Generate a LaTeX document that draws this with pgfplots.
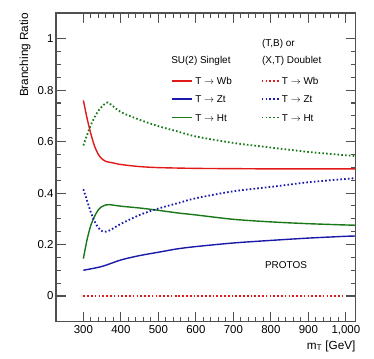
\documentclass[border=0pt]{standalone}
\usepackage{fontspec}
\setmainfont{Liberation Sans}
\usepackage{pgfplots}
\pgfplotsset{compat=1.18}

\definecolor{cred}{RGB}{225,25,25}
\definecolor{cblue}{RGB}{25,25,170}
\definecolor{cgreen}{RGB}{25,120,25}
\definecolor{cframe}{RGB}{80,80,80}

\begin{document}
\begin{tikzpicture}
\begin{axis}[
  scale only axis, width=299.6bp, height=308.7bp,
  xmin=227, xmax=1026, ymin=-0.1, ymax=1.1,
  xtick={300,400,...,1000}, ytick={0,0.2,...,1.0},
  minor x tick num=4, minor y tick num=3,
  tick align=inside, xtick pos=both, ytick pos=both,
  xticklabel pos=lower, yticklabel pos=left,
  major tick length=10bp, minor tick length=5bp,
  axis line style={cframe, line width=1.2bp},
  major tick style={cframe, line width=1.1bp},
  minor tick style={cframe, line width=1.1bp},
  axis on top,
  /pgf/number format/assume math mode=true,
  /pgf/number format/fixed,
  ticklabel style={font=\fontsize{11.5}{12}\selectfont},
  yticklabel style={xshift=1bp},
  xlabel={m$_{\mathrm{T}}$ [GeV]},
  xlabel style={at={(rel axis cs:1,0)}, anchor=base east, inner sep=0pt, yshift=-27.3bp, font=\fontsize{11.8}{12}\selectfont},
  ylabel={Branching Ratio},
  ylabel style={at={(rel axis cs:-0.103,1)}, anchor=east, inner sep=0pt, font=\fontsize{11.8}{12}\selectfont},
  clip=false,
  sing/.style={line width=1.4bp, smooth},
  doub/.style={line width=1.8bp, dash pattern=on 1.6bp off 2.2bp, smooth},
]
% frame
\addplot[cframe, line width=1.2bp, forget plot] coordinates {
(227,-0.1) (1026,-0.1) (1026,1.1) (227,1.1) (227,-0.1)};
% SU(2) singlet
\addplot[cred, sing] coordinates {
(300,0.760) (310,0.690) (320,0.630) (330,0.582) (340,0.550) (350,0.532) (360,0.523) (380,0.517) (400,0.511) (450,0.503) (500,0.499) (600,0.496) (700,0.495) (800,0.494) (900,0.494) (1000,0.494) (1026,0.494)};
\addplot[cblue, sing] coordinates {
(300,0.100) (350,0.115) (400,0.140) (450,0.157) (500,0.170) (550,0.183) (600,0.192) (700,0.206) (800,0.216) (900,0.225) (1000,0.232) (1026,0.233)};
\addplot[cgreen, sing] coordinates {
(300,0.145) (310,0.220) (320,0.275) (330,0.310) (340,0.335) (350,0.348) (360,0.354) (370,0.355) (400,0.349) (450,0.342) (500,0.333) (550,0.323) (600,0.315) (700,0.298) (800,0.288) (900,0.281) (1000,0.276) (1026,0.275)};
% doublet
\addplot[cred, doub] coordinates {(300,0) (1026,0)};
\addplot[cblue, doub] coordinates {
(300,0.415) (310,0.370) (320,0.325) (330,0.290) (340,0.265) (350,0.252) (360,0.250) (370,0.255) (400,0.280) (450,0.315) (500,0.340) (550,0.360) (600,0.380) (700,0.407) (800,0.424) (900,0.442) (1000,0.455) (1026,0.458)};
\addplot[cgreen, doub] coordinates {
(300,0.585) (320,0.665) (340,0.720) (360,0.750) (370,0.748) (400,0.715) (450,0.685) (500,0.660) (550,0.640) (600,0.620) (700,0.595) (800,0.577) (900,0.560) (1000,0.547) (1026,0.544)};
% legend swatches
\addplot[cgreen, line width=1.4bp, forget plot] coordinates {(536,0.694) (589,0.694)};
\addplot[cgreen, line width=1.8bp, dash pattern=on 1.6bp off 2.2bp, forget plot] coordinates {(776,0.694) (821,0.694)};
\addplot[cred, line width=1.4bp, forget plot] coordinates {(536,0.835) (589,0.835)};
\addplot[cblue, line width=1.4bp, forget plot] coordinates {(536,0.765) (589,0.765)};
\addplot[cred, line width=1.8bp, dash pattern=on 1.6bp off 2.2bp, forget plot] coordinates {(776,0.835) (821,0.835)};
\addplot[cblue, line width=1.8bp, dash pattern=on 1.6bp off 2.2bp, forget plot] coordinates {(776,0.765) (821,0.765)};
\begin{scope}[every node/.style={inner sep=0pt, anchor=base west, font=\fontsize{10}{12}\selectfont}]
\node at (axis cs:534,0.905) {SU(2) Singlet};
\node at (axis cs:776,0.970) {(T,B) or};
\node at (axis cs:776,0.905) {(X,T) Doublet};
\node at (axis cs:598,0.821) {T $\rightarrow$ Wb};
\node at (axis cs:598,0.751) {T $\rightarrow$ Zt};
\node at (axis cs:598,0.680) {T $\rightarrow$ Ht};
\node at (axis cs:829,0.821) {T $\rightarrow$ Wb};
\node at (axis cs:829,0.751) {T $\rightarrow$ Zt};
\node at (axis cs:829,0.680) {T $\rightarrow$ Ht};
\node[anchor=west] at (axis cs:784,0.12) {PROTOS};
\end{scope}
\end{axis}
\pgfresetboundingbox
\path (-56bp,-37.3bp) rectangle (318bp,321.7bp);
\end{tikzpicture}
\end{document}
